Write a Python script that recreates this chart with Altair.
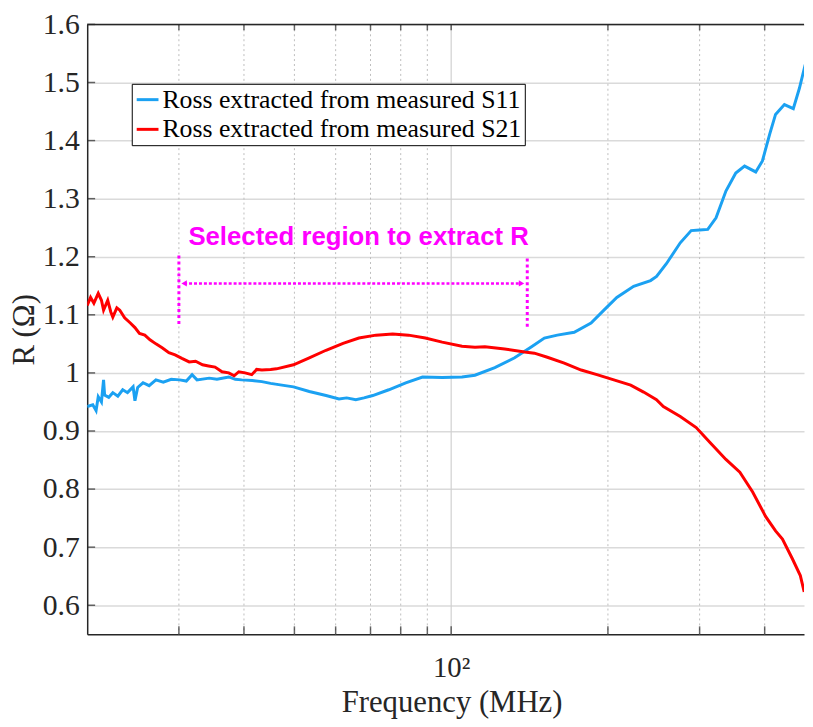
import altair as alt
import pandas as pd

# ---- data ----
freq_s11 = [20, 20.5, 20.8, 21.0, 21.3, 21.5, 21.6, 22.0, 22.4, 22.9, 23.4, 23.9, 24.5, 24.7,
            25.0, 25.6, 26.3, 27.1, 28.0, 29.0, 30.1, 31.0, 31.8, 32.5, 34.3, 35.5, 37.4, 38.5,
            39.6, 41.5, 43.3, 45.0, 47.3, 49.8, 53.4, 57.5, 60.9, 63.0, 65.6, 68.0, 70.7, 75.9,
            81.8, 88.1, 96.1, 104.9, 111.1, 121.3, 132.4, 142.7, 151.0, 159.9, 172.3, 185.6,
            196.5, 208.0, 224.1, 241.5, 248.0, 259.0, 275.4, 289.0, 300.0, 311.0, 322.6, 337.0,
            352.0, 366.0, 384.5, 396.0, 409.0, 419.7, 436.5, 454.0, 466.4, 478.6]
r_s11 = [0.942, 0.945, 0.935, 0.959, 0.950, 0.988, 0.962, 0.958, 0.966, 0.960, 0.971, 0.966,
         0.976, 0.952, 0.975, 0.983, 0.978, 0.988, 0.984, 0.989, 0.988, 0.986, 0.997, 0.988,
         0.991, 0.989, 0.993, 0.989, 0.988, 0.987, 0.985, 0.982, 0.979, 0.976, 0.968, 0.961,
         0.955, 0.957, 0.954, 0.957, 0.961, 0.971, 0.983, 0.993, 0.992, 0.993, 0.996, 1.009,
         1.026, 1.045, 1.060, 1.065, 1.070, 1.086, 1.108, 1.130, 1.149, 1.159, 1.166, 1.188,
         1.224, 1.245, 1.246, 1.247, 1.267, 1.313, 1.344, 1.356, 1.346, 1.365, 1.411, 1.445,
         1.462, 1.455, 1.490, 1.531]

freq_s21 = [20, 20.3, 20.6, 21.0, 21.3, 21.5, 21.9, 22.2, 22.4, 22.8, 23.1, 23.6, 24.2, 24.7,
            25.2, 25.8, 26.4, 27.1, 27.9, 28.7, 29.5, 30.4, 31.4, 32.3, 33.3, 34.2, 35.2, 36.3,
            37.4, 38.3, 39.1, 40.2, 41.4, 42.3, 43.3, 45.0, 46.2, 49.8, 53.4, 57.5, 62.0, 66.5,
            71.7, 77.2, 82.8, 89.2, 96.1, 104.9, 111.1, 116.1, 126.7, 138.4, 144.5, 153.0, 164.9,
            177.7, 190.5, 205.3, 221.2, 234.2, 247.9, 255.6, 275.4, 295.5, 314.1, 337.0, 358.4,
            379.3, 401.6, 419.7, 432.7, 452.1, 468.3, 476.4]
r_s21 = [1.116, 1.130, 1.120, 1.137, 1.125, 1.108, 1.125, 1.105, 1.096, 1.112, 1.108, 1.095,
         1.086, 1.078, 1.068, 1.065, 1.057, 1.050, 1.043, 1.035, 1.031, 1.025, 1.019, 1.020,
         1.014, 1.012, 1.010, 1.002, 1.000, 0.995, 1.002, 1.000, 0.997, 1.006, 1.005, 1.006,
         1.007, 1.014, 1.026, 1.039, 1.051, 1.060, 1.065, 1.067, 1.065, 1.060, 1.053, 1.046,
         1.044, 1.045, 1.041, 1.036, 1.034, 1.027, 1.017, 1.005, 0.997, 0.988, 0.979, 0.967,
         0.954, 0.942, 0.925, 0.906, 0.880, 0.851, 0.829, 0.795, 0.753, 0.728, 0.714, 0.680,
         0.651, 0.623]

series_labels = ["Ross extracted from measured S11", "Ross extracted from measured S21"]
series_colors = ["#1ba1f2", "#ff0000"]

minor_x = [30, 40, 50, 60, 70, 80, 90, 200, 300, 400]
major_x = [100]
y_ticks = [0.6, 0.7, 0.8, 0.9, 1.0, 1.1, 1.2, 1.3, 1.4, 1.5, 1.6]

annot_text = ["Selected region to extract R"]
annot_text_pos = [66.4, 1.233]
vline_f = [30, 140]
vline_top = [1.202, 1.197]
vline_bot = [1.082, 1.077]
arrow_f = [30.7, 136.5]
arrow_r = 1.154

# ---- layout ----
W, H = 724, 616
INK = "#262626"
MAG = "#ff00ff"

x_scale = alt.Scale(type="log", domain=[20, 476], nice=False)
y_scale = alt.Scale(domain=[0.55, 1.6], nice=False, zero=False)

x_axis = alt.Axis(values=major_x, labelExpr="'10²'", ticks=False, grid=False,
                  labelPadding=20, labelFontSize=29, title="Frequency (MHz)",
                  titleX=368, titleY=78, titleBaseline="alphabetic")
y_axis = alt.Axis(values=y_ticks, ticks=False, grid=True, gridColor="#dadada", gridWidth=1.5,
                  labelExpr="datum.value == 1 ? '1' : format(datum.value, '.1f')",
                  labelPadding=8, title="R (Ω)", titleX=-63, titleY=H / 2,
                  titleAngle=270, titleBaseline="middle", titleAlign="center")


def X(field):
    return alt.X(field, scale=x_scale, axis=x_axis)


def Y(field):
    return alt.Y(field, scale=y_scale, axis=y_axis)


rows = []
for f, r in zip(freq_s11, r_s11):
    rows.append({"freq": f, "R": r, "series": series_labels[0]})
for f, r in zip(freq_s21, r_s21):
    rows.append({"freq": f, "R": r, "series": series_labels[1]})
df = pd.DataFrame(rows)

grid_minor = alt.Chart(pd.DataFrame({"freq": minor_x})).mark_rule(
    color="#bdbdbd", strokeDash=[2, 3], strokeWidth=1).encode(x=X("freq:Q"))
grid_major = alt.Chart(pd.DataFrame({"freq": major_x})).mark_rule(
    color="#d0d0d0", strokeWidth=1.2).encode(x=X("freq:Q"))

tick_df = pd.DataFrame({"freq": minor_x + major_x})
ticks_bottom = alt.Chart(tick_df).mark_tick(
    orient="vertical", size=8, thickness=1.5, color=INK).encode(x=X("freq:Q"), y=alt.value(H - 4))
ticks_top = alt.Chart(tick_df).mark_tick(
    orient="vertical", size=6, thickness=1.5, color=INK).encode(x=X("freq:Q"), y=alt.value(3))
ticks_left = alt.Chart(pd.DataFrame({"R": y_ticks})).mark_tick(
    orient="horizontal", size=8, thickness=1.5, color=INK).encode(y=Y("R:Q"), x=alt.value(4))
top_border = alt.Chart(pd.DataFrame({"a": [0]})).mark_rule(
    color=INK, strokeWidth=1.5).encode(x=alt.value(0), x2=alt.value(W), y=alt.value(0))

lines = alt.Chart(df).mark_line(strokeWidth=3, clip=True).encode(
    x=X("freq:Q"),
    y=Y("R:Q"),
    color=alt.Color("series:N", scale=alt.Scale(domain=series_labels, range=series_colors),
                    legend=alt.Legend(orient="none", legendX=45, legendY=60, title=None,
                                      symbolType="stroke", symbolSize=484, symbolStrokeWidth=3,
                                      labelFont="Liberation Serif", labelFontSize=26,
                                      labelColor="black", labelLimit=600, labelOffset=2,
                                      strokeColor="black", fillColor="white", padding=3,
                                      rowPadding=4)),
)

text = alt.Chart(pd.DataFrame({"freq": [annot_text_pos[0]], "R": [annot_text_pos[1]],
                               "t": annot_text})).mark_text(
    font="Liberation Sans", fontWeight="bold", fontSize=26, color=MAG,
    align="center", baseline="middle").encode(x=X("freq:Q"), y=Y("R:Q"), text="t:N")

vlines = alt.Chart(pd.DataFrame({"freq": vline_f, "R": vline_top, "R2": vline_bot})).mark_rule(
    color=MAG, strokeWidth=3, strokeDash=[3, 3]).encode(x=X("freq:Q"), y=Y("R:Q"), y2="R2:Q")

harrow = alt.Chart(pd.DataFrame({"freq": [arrow_f[0]], "f2": [arrow_f[1]], "R": [arrow_r]})).mark_rule(
    color=MAG, strokeWidth=2.5, strokeDash=[3, 2]).encode(x=X("freq:Q"), x2="f2:Q", y=Y("R:Q"))

head_l = alt.Chart(pd.DataFrame({"freq": [arrow_f[0]], "R": [arrow_r]})).mark_point(
    shape="triangle-left", filled=True, size=40, color=MAG, opacity=1).encode(x=X("freq:Q"), y=Y("R:Q"))
head_r = alt.Chart(pd.DataFrame({"freq": [arrow_f[1]], "R": [arrow_r]})).mark_point(
    shape="triangle-right", filled=True, size=40, color=MAG, opacity=1).encode(x=X("freq:Q"), y=Y("R:Q"))

chart = alt.layer(
    grid_minor, grid_major, lines, text, vlines, harrow, head_l, head_r,
    ticks_bottom, ticks_top, ticks_left, top_border
).properties(
    width=W, height=H,
    autosize=alt.AutoSizeParams(type="none"),
    padding={"left": 80, "top": 13, "right": 1, "bottom": 82},
    background="white",
).configure_view(stroke=None).configure_axis(
    domainColor=INK, domainWidth=1.5,
    labelFont="Liberation Serif", labelFontSize=30, labelColor=INK,
    titleFont="Liberation Serif", titleFontSize=31, titleFontWeight="normal", titleColor=INK,
)

chart.save("out.html", embed_options={"renderer": "svg", "actions": False})
